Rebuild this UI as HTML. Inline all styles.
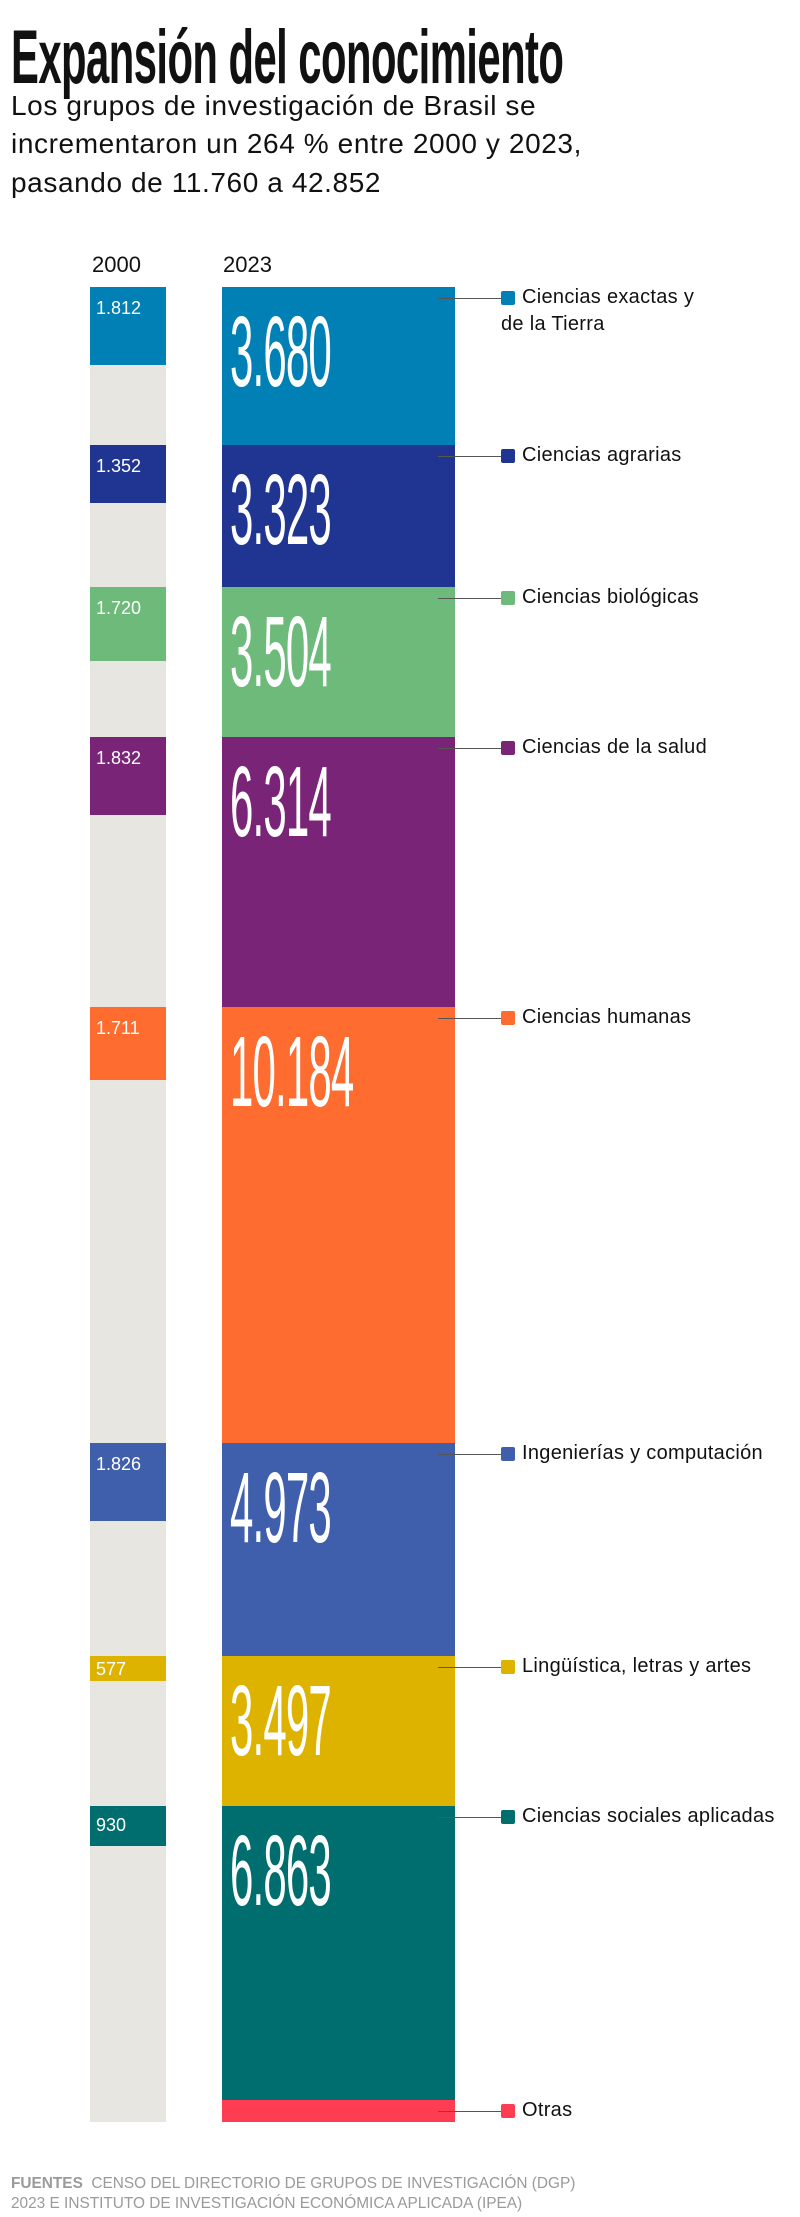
<!DOCTYPE html>
<html><head><meta charset="utf-8"><style>
body{margin:0;width:800px;height:2217px;background:#fff;position:relative;overflow:hidden;font-family:"Liberation Sans",sans-serif;color:#111}
.a{position:absolute;white-space:nowrap}
.t{left:11px;top:14px;font-weight:bold;font-size:76px;transform:scaleX(0.55);transform-origin:left top;letter-spacing:-1px}
.s{left:11px;font-size:28px;letter-spacing:0.6px}
.yr{font-size:22px;top:252px}
.seg{position:absolute}
.big{position:absolute;color:#fff;font-size:100px;line-height:1;transform:scaleX(0.42);transform-origin:left top;letter-spacing:-2px}
.sm{position:absolute;color:#fff;font-size:18px;line-height:1;left:96px}
.ln{position:absolute;left:438px;width:63px;height:1px;background:#555}
.sq{position:absolute;left:501px;width:14px;height:14px;border-radius:2px}
.lb{position:absolute;left:522px;font-size:20px;line-height:27px;white-space:nowrap;letter-spacing:0.3px}
.f{left:11px;font-size:15.4px;color:#9a9a9a}
</style></head><body>
<div class="a t">Expansión del conocimiento</div>
<div class="a s" style="top:90px">Los grupos de investigación de Brasil se</div>
<div class="a s" style="top:128px">incrementaron un 264 % entre 2000 y 2023,</div>
<div class="a s" style="top:167px">pasando de 11.760 a 42.852</div>
<div class="a yr" style="left:92px">2000</div>
<div class="a yr" style="left:223px">2023</div>

<div class="seg" style="left:90px;top:287px;width:76px;height:1835px;background:#e7e6e0"></div>

<div class="seg" style="left:90px;width:76px;top:287px;height:78px;background:#0080b4"></div>
<div class="seg" style="left:90px;width:76px;top:444.6px;height:58px;background:#1f3591"></div>
<div class="seg" style="left:90px;width:76px;top:586.9px;height:74px;background:#6dba7a"></div>
<div class="seg" style="left:90px;width:76px;top:736.9px;height:78px;background:#7a2478"></div>
<div class="seg" style="left:90px;width:76px;top:1007.3px;height:73px;background:#ff6c2f"></div>
<div class="seg" style="left:90px;width:76px;top:1443.4px;height:78px;background:#3f5eac"></div>
<div class="seg" style="left:90px;width:76px;top:1656.3px;height:25px;background:#deb300"></div>
<div class="seg" style="left:90px;width:76px;top:1806px;height:40px;background:#006e6f"></div>
<div class="sm" style="top:299px">1.812</div>
<div class="sm" style="top:457px">1.352</div>
<div class="sm" style="top:599px">1.720</div>
<div class="sm" style="top:749px">1.832</div>
<div class="sm" style="top:1019px">1.711</div>
<div class="sm" style="top:1455px">1.826</div>
<div class="sm" style="top:1660px">577</div>
<div class="sm" style="top:1816px">930</div>

<div class="seg" style="left:222px;width:233px;top:287px;height:157.6px;background:#0080b4"></div>
<div class="seg" style="left:222px;width:233px;top:444.6px;height:142.3px;background:#1f3591"></div>
<div class="seg" style="left:222px;width:233px;top:586.9px;height:150px;background:#6dba7a"></div>
<div class="seg" style="left:222px;width:233px;top:736.9px;height:270.4px;background:#7a2478"></div>
<div class="seg" style="left:222px;width:233px;top:1007.3px;height:436.1px;background:#ff6c2f"></div>
<div class="seg" style="left:222px;width:233px;top:1443.4px;height:212.9px;background:#3f5eac"></div>
<div class="seg" style="left:222px;width:233px;top:1656.3px;height:149.7px;background:#deb300"></div>
<div class="seg" style="left:222px;width:233px;top:1806px;height:293.9px;background:#006e6f"></div>
<div class="seg" style="left:222px;width:233px;top:2099.9px;height:22.1px;background:#ff3d52"></div>
<div class="big" style="left:230px;top:302px">3.680</div>
<div class="big" style="left:230px;top:460px">3.323</div>
<div class="big" style="left:230px;top:602px">3.504</div>
<div class="big" style="left:230px;top:752px">6.314</div>
<div class="big" style="left:230px;top:1022px">10.184</div>
<div class="big" style="left:230px;top:1458px">4.973</div>
<div class="big" style="left:230px;top:1671px">3.497</div>
<div class="big" style="left:230px;top:1821px">6.863</div>

<div class="ln" style="top:298px"></div><div class="sq" style="top:291px;background:#0080b4"></div><div class="lb" style="top:284px">Ciencias exactas y</div><div class="lb" style="top:311px;left:501px">de la Tierra</div>
<div class="ln" style="top:456px"></div><div class="sq" style="top:449px;background:#1f3591"></div><div class="lb" style="top:442px">Ciencias agrarias</div>
<div class="ln" style="top:598px"></div><div class="sq" style="top:591px;background:#6dba7a"></div><div class="lb" style="top:584px">Ciencias biológicas</div>
<div class="ln" style="top:748px"></div><div class="sq" style="top:741px;background:#7a2478"></div><div class="lb" style="top:734px">Ciencias de la salud</div>
<div class="ln" style="top:1018px"></div><div class="sq" style="top:1011px;background:#ff6c2f"></div><div class="lb" style="top:1004px">Ciencias humanas</div>
<div class="ln" style="top:1454px"></div><div class="sq" style="top:1447px;background:#3f5eac"></div><div class="lb" style="top:1440px">Ingenierías y computación</div>
<div class="ln" style="top:1667px"></div><div class="sq" style="top:1660px;background:#deb300"></div><div class="lb" style="top:1653px">Lingüística, letras y artes</div>
<div class="ln" style="top:1817px"></div><div class="sq" style="top:1810px;background:#006e6f"></div><div class="lb" style="top:1803px">Ciencias sociales aplicadas</div>
<div class="ln" style="top:2111px"></div><div class="sq" style="top:2104px;background:#ff3d52"></div><div class="lb" style="top:2097px">Otras</div>

<div class="a f" style="top:2175px"><b>FUENTES</b>&nbsp; CENSO DEL DIRECTORIO DE GRUPOS DE INVESTIGACIÓN (DGP)</div>
<div class="a f" style="top:2195px">2023 E INSTITUTO DE INVESTIGACIÓN ECONÓMICA APLICADA (IPEA)</div>
</body></html>
